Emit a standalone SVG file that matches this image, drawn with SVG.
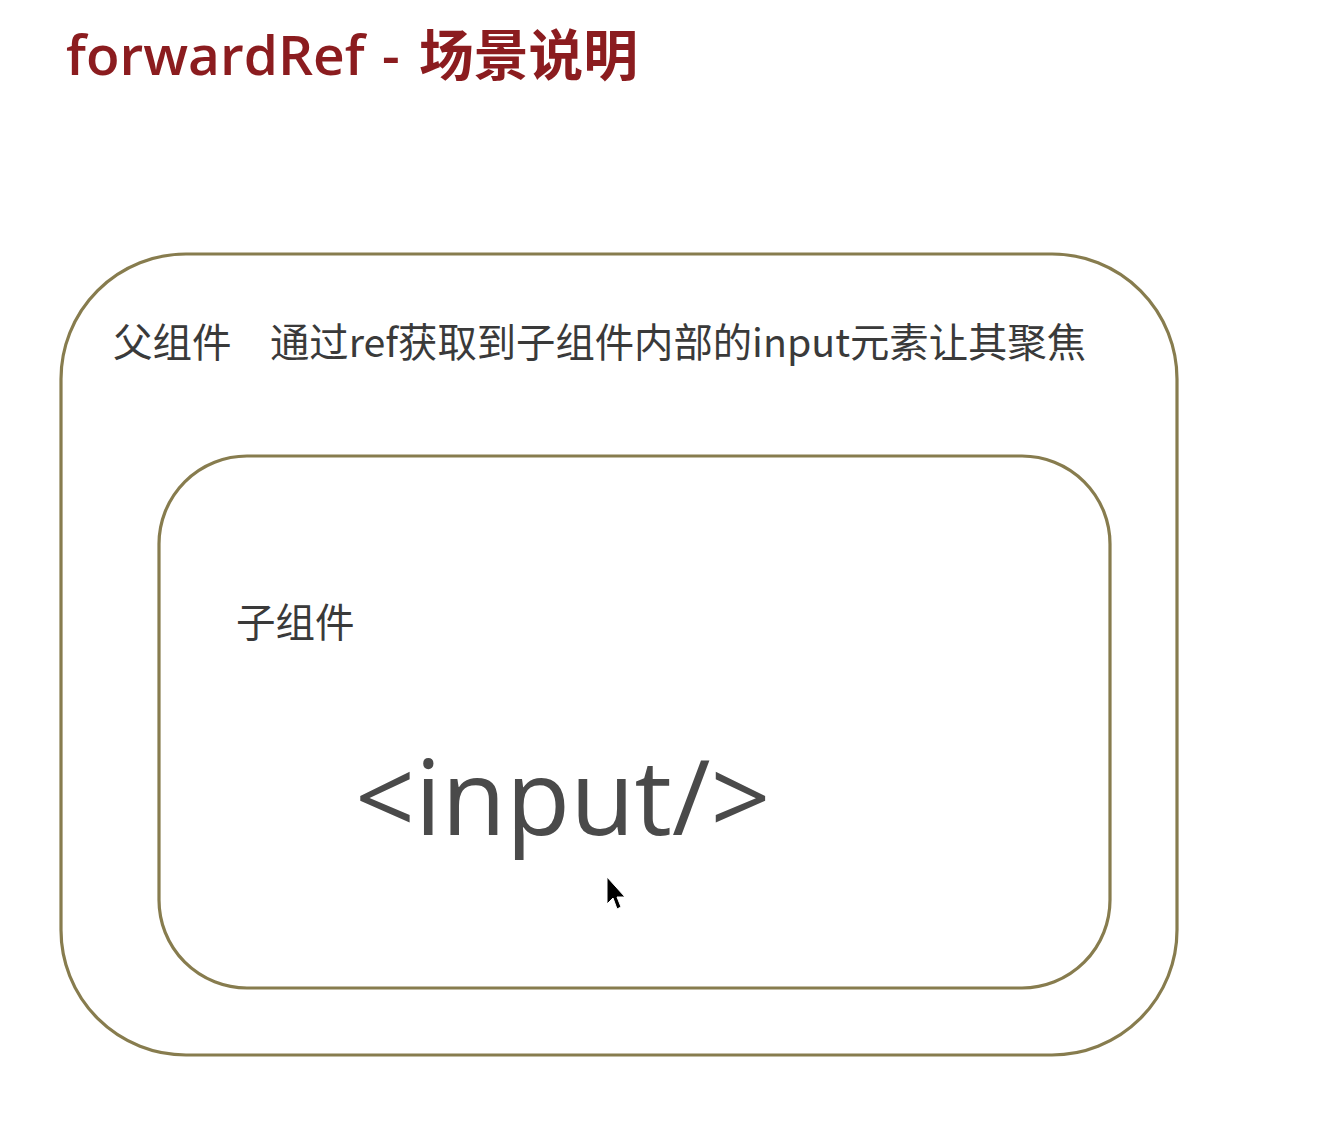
<svg xmlns="http://www.w3.org/2000/svg" width="1332" height="1148" viewBox="0 0 1332 1148">
<style>
.box{fill:none;stroke:#877c4e;stroke-width:3.2}
.lbl{font-family:"Noto Sans CJK SC","Noto Sans",sans-serif;font-size:39.5px;fill:#3a3a3a}
.title{font-family:"Open Sans","Noto Sans CJK SC",sans-serif;font-size:55px;font-weight:600;fill:#8b1c1f}
.code{font-family:"Open Sans","Noto Sans",sans-serif;font-size:105px;fill:#4a4a4a}
</style>
<rect width="1332" height="1148" fill="#ffffff"/>
<g id="title"><text class="title" x="66" y="75">forwardRef <tspan x="382">-</tspan><tspan x="419" font-family="Noto Sans CJK SC" font-weight="600" textLength="219" lengthAdjust="spacingAndGlyphs">场景说明</tspan></text></g>
<g id="parent">
<rect class="box" x="61" y="254" width="1116" height="801" rx="125" ry="125"/>
<text class="lbl" x="113" y="357">父组件</text>
<text class="lbl" x="270" y="357" textLength="816" lengthAdjust="spacingAndGlyphs">通过ref获取到子组件内部的input元素让其聚焦</text>
</g>
<g id="child">
<rect class="box" x="159" y="456" width="951" height="532" rx="88" ry="88"/>
<text class="lbl" x="236" y="637">子组件</text>
<text class="code" x="355" y="835">&lt;input/&gt;</text>
</g>
<g id="connectors"></g>
<g id="cursor">
<polygon points="607,877 607,904 613,898 617,909 621,907 617,897 625,897" fill="#000" stroke="#fff" stroke-width="1"/>
</g>
</svg>
